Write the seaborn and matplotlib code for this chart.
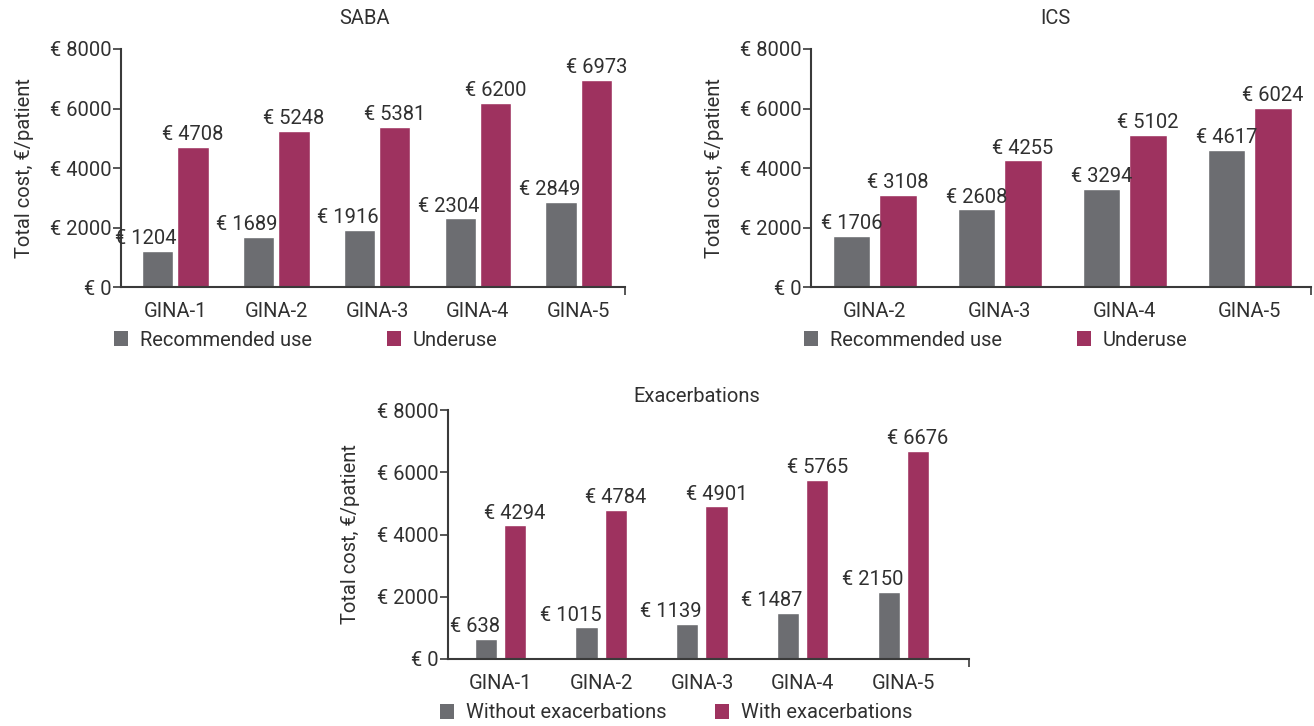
import numpy as np
import pandas as pd
import matplotlib
matplotlib.use("Agg")
import matplotlib.pyplot as plt
from matplotlib.patches import Patch
from matplotlib.ticker import FuncFormatter
import seaborn as sns

# ---- data ----
saba_stages = ["GINA-1", "GINA-2", "GINA-3", "GINA-4", "GINA-5"]
saba_recommended = [1204, 1689, 1916, 2304, 2849]
saba_underuse = [4708, 5248, 5381, 6200, 6973]

ics_stages = ["GINA-2", "GINA-3", "GINA-4", "GINA-5"]
ics_recommended = [1706, 2608, 3294, 4617]
ics_underuse = [3108, 4255, 5102, 6024]

exa_stages = ["GINA-1", "GINA-2", "GINA-3", "GINA-4", "GINA-5"]
exa_without = [638, 1015, 1139, 1487, 2150]
exa_with = [4294, 4784, 4901, 5765, 6676]

y_ticks = [0, 2000, 4000, 6000, 8000]

GRAY = "#6c6d71"
MAROON = "#9e325f"
TXT = "#303030"
SPINE = "#3a3a3a"

sns.set_theme(style="white")
plt.rcParams["font.family"] = ["Roboto", "DejaVu Sans"]
plt.rcParams["text.color"] = TXT
plt.rcParams["axes.labelcolor"] = TXT
plt.rcParams["xtick.color"] = SPINE
plt.rcParams["ytick.color"] = SPINE
plt.rcParams["xtick.labelcolor"] = TXT
plt.rcParams["ytick.labelcolor"] = TXT

FS = 14.5

W, H = 1314, 726
fig = plt.figure(figsize=(W / 100, H / 100), dpi=100)


def make_df(stages, a, b, la, lb):
    return pd.DataFrame({
        "stage": stages * 2,
        "cost": list(a) + list(b),
        "group": [la] * len(stages) + [lb] * len(stages),
    })


def panel(rect, df, values, title, title_x, title_pad, xlim, width, gap,
          labels, leg_xy, colspace, gray_align, ylabelpad):
    l, t, r, b = rect
    ax = fig.add_axes([l / W, 1 - b / H, (r - l) / W, (b - t) / H])
    sns.barplot(data=df, x="stage", y="cost", hue="group",
                palette=[GRAY, MAROON], width=width, gap=gap,
                saturation=1, errorbar=None, ax=ax, legend=False)
    # value labels
    for ci, (cont, vals) in enumerate(zip(ax.containers, values)):
        for rect_, v in zip(cont.patches, vals):
            x0 = rect_.get_x()
            w = rect_.get_width()
            h = rect_.get_height()
            if ci == 0 and gray_align == "right":
                ax.annotate(f"€ {v}", xy=(x0 + w, h), xytext=(2.5, 2),
                            textcoords="offset points", ha="right",
                            va="bottom", fontsize=FS, color=TXT)
            else:
                ax.annotate(f"€ {v}", xy=(x0 + w / 2, h), xytext=(0, 2),
                            textcoords="offset points", ha="center",
                            va="bottom", fontsize=FS, color=TXT)
    ax.set_ylim(0, 8000)
    ax.set_xlim(*xlim)
    ax.set_yticks(y_ticks)
    ax.yaxis.set_major_formatter(FuncFormatter(lambda v, p: f"€ {int(v)}"))
    ax.tick_params(axis="y", which="both", left=True, length=6, width=1.2,
                   labelsize=FS, pad=1)
    ax.tick_params(axis="x", which="major", bottom=False, labelsize=FS, pad=5)
    ax.set_xticks([xlim[1]], minor=True)
    ax.tick_params(axis="x", which="minor", bottom=True, length=6, width=1.2)
    ax.set_xlabel("")
    ax.set_ylabel("Total cost, €/patient", fontsize=FS, labelpad=ylabelpad)
    ax.set_title(title, fontsize=FS, pad=title_pad, color=TXT, x=title_x)
    for s in ["top", "right"]:
        ax.spines[s].set_visible(False)
    for s in ["left", "bottom"]:
        ax.spines[s].set_color(SPINE)
        ax.spines[s].set_linewidth(1.5)
    handles = [Patch(facecolor=GRAY, edgecolor="none"),
               Patch(facecolor=MAROON, edgecolor="none")]
    fig.legend(handles, labels, loc="center left",
               bbox_to_anchor=(leg_xy[0] / W, 1 - leg_xy[1] / H),
               ncol=2, frameon=False, fontsize=FS, handlelength=0.7,
               handleheight=0.7, handletextpad=0.6, columnspacing=colspace,
               borderpad=0, borderaxespad=0)
    return ax


panel((121, 49, 625, 287),
      make_df(saba_stages, saba_recommended, saba_underuse,
              "Recommended use", "Underuse"),
      [saba_recommended, saba_underuse],
      "SABA", 0.484, 18, (-0.54, 4.46), 0.70, 0.114,
      ["Recommended use", "Underuse"], (114, 340), 3.7, "right", 11)

panel((811, 49, 1311, 287),
      make_df(ics_stages, ics_recommended, ics_underuse,
              "Recommended use", "Underuse"),
      [ics_recommended, ics_underuse],
      "ICS", 0.488, 18, (-0.51, 3.49), 0.74, 0.19,
      ["Recommended use", "Underuse"], (804, 340), 3.7, "center", 11)

panel((448, 410, 969, 659),
      make_df(exa_stages, exa_without, exa_with,
              "Without exacerbations", "With exacerbations"),
      [exa_without, exa_with],
      "Exacerbations", 0.478, 6, (-0.52, 4.65), 0.58, 0.24,
      ["Without exacerbations", "With exacerbations"], (440, 713), 2.4,
      "right", 12)

fig.savefig("out.png", dpi=100)
